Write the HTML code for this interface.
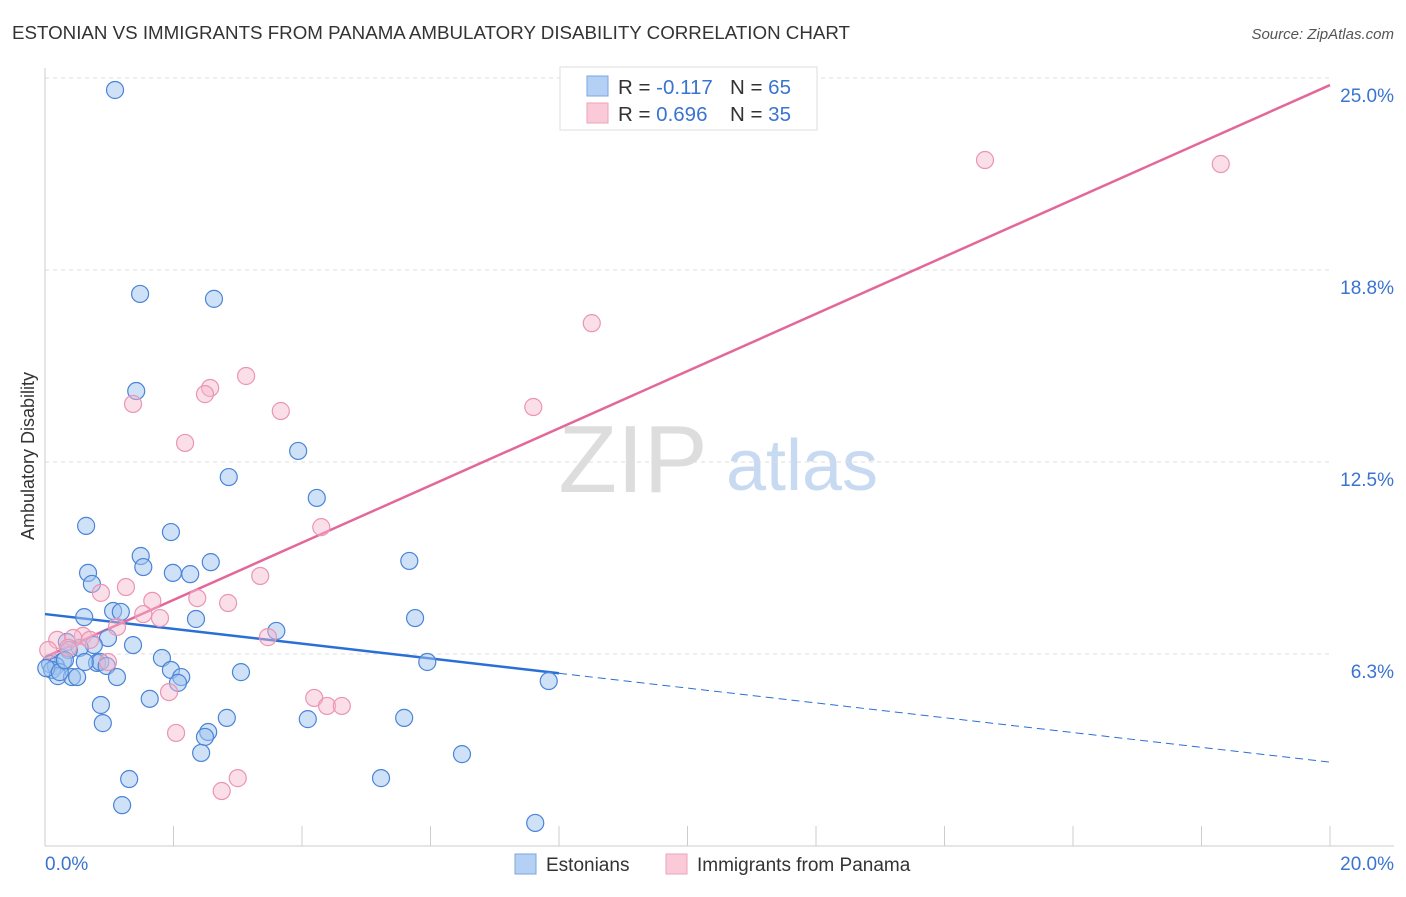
<!DOCTYPE html>
<html><head><meta charset="utf-8"><style>
body{margin:0;background:#fff;font-family:"Liberation Sans",sans-serif;}
svg text{font-family:"Liberation Sans",sans-serif;}
</style></head><body>
<svg id="chart" width="1406" height="892" xmlns="http://www.w3.org/2000/svg">
<text x="12" y="39" font-size="18" fill="#333" textLength="838" lengthAdjust="spacingAndGlyphs">ESTONIAN VS IMMIGRANTS FROM PANAMA AMBULATORY DISABILITY CORRELATION CHART</text>
<text x="1394" y="39" font-size="15" fill="#555" font-style="italic" text-anchor="end">Source: ZipAtlas.com</text>
<text x="633" y="492" font-size="96" fill="#ddd" font-family="Liberation Serif" text-anchor="middle">ZIP</text>
<text x="802" y="490" font-size="72" fill="#c8daf2" text-anchor="middle">atlas</text>
<g id="grid"></g><g id="axes"></g><g id="lines"></g><g id="pts"></g>
<text transform="translate(34,456) rotate(-90)" font-size="18" fill="#333" text-anchor="middle">Ambulatory Disability</text>
<text x="45" y="870" font-size="19" fill="#3a74d0">0.0%</text>
<text x="1394" y="870" font-size="19" fill="#3a74d0" text-anchor="end">20.0%</text>
<g>
<rect x="560" y="67" width="257" height="63" fill="#fff" stroke="#ddd"/>
<rect x="587" y="76" width="21" height="20" fill="#b5d0f5" stroke="#7aa6e0"/>
<rect x="587" y="103" width="21" height="20" fill="#fbcad8" stroke="#eda2bb"/>
<text x="618" y="94" font-size="20.5" fill="#333">R = <tspan fill="#3a74d0">-0.117</tspan><tspan x="730">N = </tspan><tspan fill="#3a74d0">65</tspan></text>
<text x="618" y="121" font-size="20.5" fill="#333">R = <tspan fill="#3a74d0">0.696</tspan><tspan x="730">N = </tspan><tspan fill="#3a74d0">35</tspan></text>
</g>
<g>
<rect x="515" y="854" width="21" height="20" fill="#b5d0f5" stroke="#7aa6e0"/>
<text x="546" y="871" font-size="19" fill="#333">Estonians</text>
<rect x="666" y="854" width="21" height="20" fill="#fbcad8" stroke="#eda2bb"/>
<text x="697" y="871" font-size="19" fill="#333">Immigrants from Panama</text>
</g>
</svg>
<script>
const yTicks=[25,18.75,12.5,6.25];
const yTickLabels=["25.0%","18.8%","12.5%","6.3%"];
const xTicks=[0,2,4,6,8,10,12,14,16,18,20];
const blueX=[1.09,1.48,2.63,1.42,3.94,2.86,4.23,0.64,1.96,1.49,5.67,2.58,1.53,0.67,1.99,2.26,0.73,1.06,1.18,0.61,2.35,5.76,3.60,0.98,0.34,1.37,0.76,0.54,0.37,1.82,5.95,0.28,0.81,0.86,0.08,0.96,0.17,1.96,3.05,0.11,0.20,1.12,2.12,0.42,0.50,2.07,7.84,1.63,0.87,2.54,2.49,2.83,4.09,5.59,0.90,2.43,6.49,1.31,5.23,1.20,7.63,0.02,0.23,0.31,0.62];
const blueY=[24.61,17.97,17.81,14.81,12.86,12.01,11.33,10.42,10.22,9.44,9.28,9.24,9.08,8.89,8.89,8.85,8.53,7.65,7.62,7.45,7.39,7.42,7.00,6.77,6.64,6.54,6.54,6.45,6.38,6.12,5.99,6.02,5.96,5.99,5.92,5.86,5.86,5.73,5.66,5.73,5.53,5.50,5.50,5.50,5.50,5.31,5.37,4.79,4.59,3.71,3.55,4.17,4.13,4.17,4.00,3.03,2.99,2.18,2.21,1.33,0.75,5.79,5.66,6.05,5.99];
const pinkX=[14.63,18.30,8.51,7.60,3.13,2.57,2.49,1.37,3.67,2.18,4.30,3.35,1.26,0.87,2.37,2.85,1.67,1.53,1.79,1.12,3.47,0.59,0.19,0.44,0.98,0.05,4.19,4.39,4.62,1.93,2.04,3.00,2.75,0.36,0.70];
const pinkY=[22.33,22.20,17.02,14.29,15.30,14.91,14.71,14.39,14.16,13.12,10.38,8.79,8.43,8.24,8.07,7.91,7.98,7.55,7.42,7.13,6.80,6.84,6.71,6.77,5.99,6.38,4.82,4.56,4.56,5.01,3.68,2.21,1.79,6.45,6.71];
const blueTrend=[7.55,2.73];
const blueSolidEnd=8.0;
const pinkTrend=[6.15,24.77];
const NS="http://www.w3.org/2000/svg";
const xS=v=>45+v/20*1285, yS=v=>846-v/6.25*192;
function mk(t,a,p){const e=document.createElementNS(NS,t);for(const k in a)e.setAttribute(k,a[k]);p.appendChild(e);return e;}
const grid=document.getElementById('grid'),axes=document.getElementById('axes'),lines=document.getElementById('lines'),pts=document.getElementById('pts');
yTicks.forEach((t,i)=>{
 const l=mk('line',{x1:45,x2:1330,y1:yS(t),y2:yS(t),stroke:'#ddd','stroke-dasharray':'4,4'},grid);
 
 
 const tx=mk('text',{x:1394,y:yS(t)+24,'font-size':19,fill:'#3a74d0','text-anchor':'end'},grid);
 tx.textContent=yTickLabels[i];
 
 
});
let a=mk('line',{x1:45,x2:45,y1:68,y2:846,stroke:'#ccc'},axes);


a=mk('line',{x1:45,x2:1394,y1:846,y2:846,stroke:'#ccc'},axes);


xTicks.forEach(t=>{
 const l=mk('line',{x1:xS(t),x2:xS(t),y1:826,y2:846,stroke:'#ccc'},axes);
 
 
});
const by=x=>blueTrend[0]+(blueTrend[1]-blueTrend[0])*x/20;
let tl=mk('line',{x1:xS(0),y1:yS(blueTrend[0]),x2:xS(blueSolidEnd),y2:yS(by(blueSolidEnd)),stroke:'#2a6fd6','stroke-width':2.5},lines);


tl=mk('line',{x1:xS(blueSolidEnd),y1:yS(by(blueSolidEnd)),x2:xS(20),y2:yS(blueTrend[1]),stroke:'#2a6fd6','stroke-width':1,'stroke-dasharray':'8,5'},lines);


tl=mk('line',{x1:xS(0),y1:yS(pinkTrend[0]),x2:xS(20),y2:yS(pinkTrend[1]),stroke:'#e4679a','stroke-width':2.5},lines);


blueX.forEach((x,i)=>{
 const c=mk('circle',{cx:xS(x),cy:yS(blueY[i]),r:8.5,fill:'rgba(160,196,240,0.5)',stroke:'#4a84d8','stroke-width':1.2},pts);
 
 
});
pinkX.forEach((x,i)=>{
 const c=mk('circle',{cx:xS(x),cy:yS(pinkY[i]),r:8.5,fill:'rgba(247,185,205,0.45)',stroke:'#eb94b4','stroke-width':1.2},pts);
 
 
});
</script>
</body></html>
